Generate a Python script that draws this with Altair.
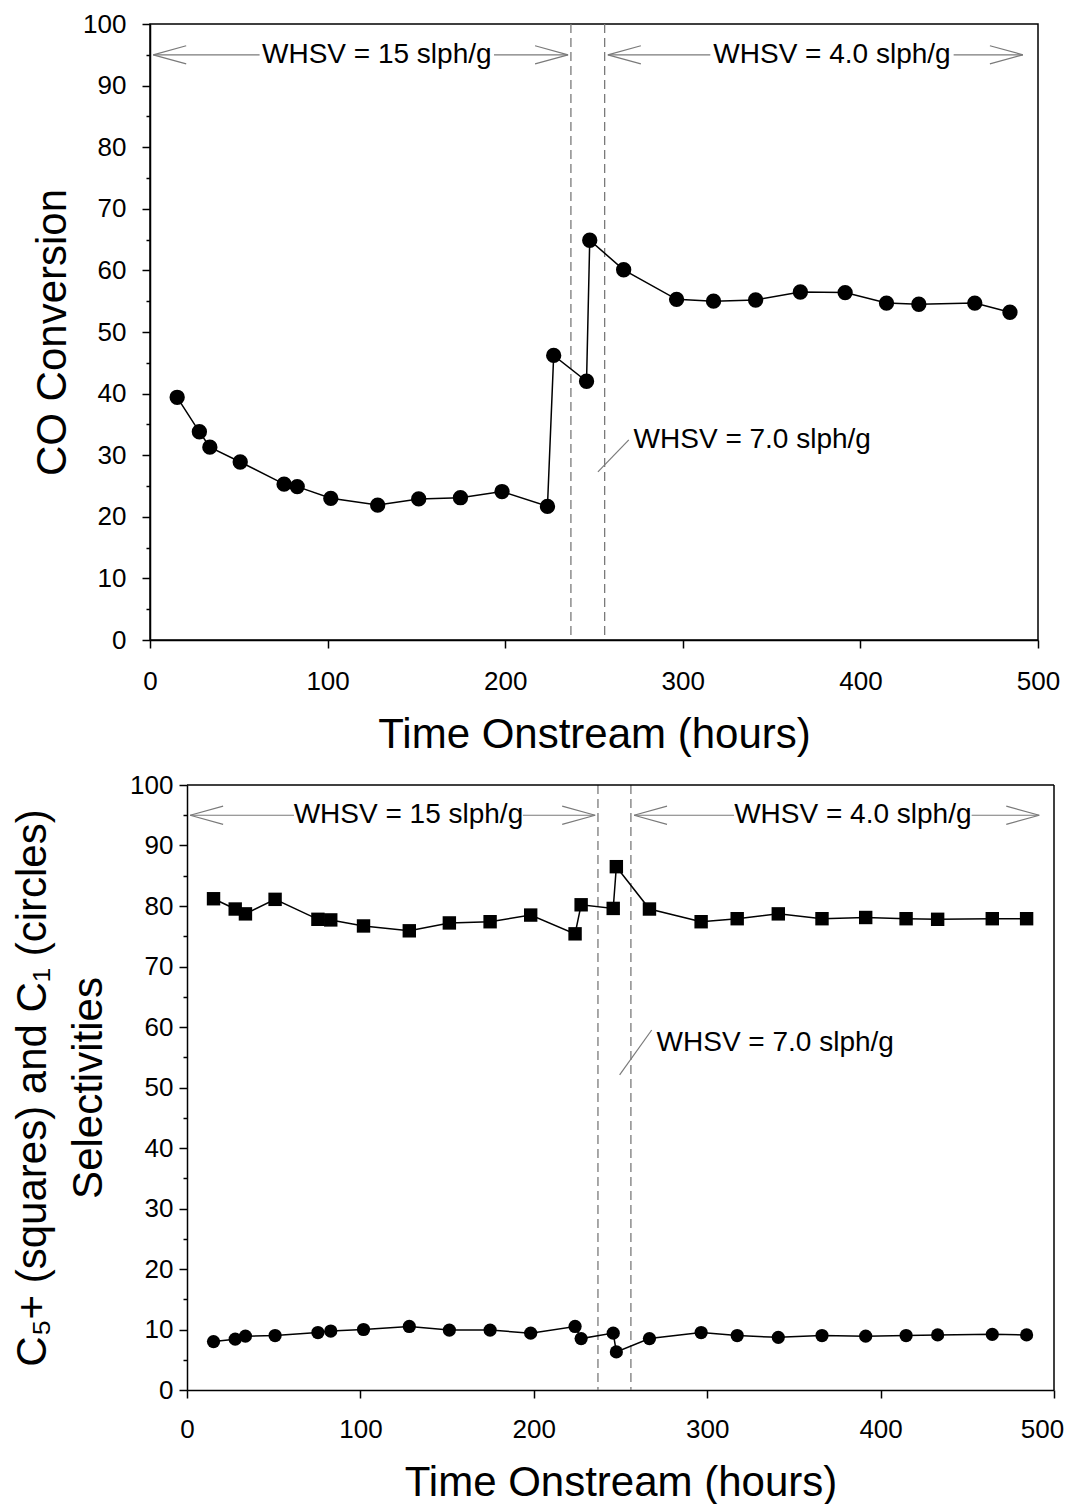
import altair as alt
import pandas as pd

# ---------------- data ----------------
time_h = [15.3, 27.8, 33.7, 50.8, 75.5, 82.9, 101.8, 128.2, 151.3, 174.8, 198.2, 223.8,
          227.3, 245.8, 247.6, 266.7, 296.5, 317.3, 341.0, 366.2, 391.4, 414.7, 432.9,
          464.4, 484.2]
co_conversion = [39.4, 33.8, 31.3, 28.9, 25.3, 24.9, 23.0, 21.9, 22.9, 23.1, 24.1, 21.7,
                 46.2, 42.0, 64.9, 60.1, 55.3, 55.0, 55.2, 56.5, 56.4, 54.7, 54.5, 54.7, 53.2]
c5_plus_sel = [81.2, 79.5, 78.7, 81.1, 77.8, 77.7, 76.7, 75.9, 77.2, 77.4, 78.5, 75.4,
               80.2, 79.6, 86.5, 79.5, 77.4, 77.9, 78.7, 77.9, 78.1, 77.9, 77.8, 77.9, 77.9]
c1_sel = [8.0, 8.4, 8.9, 9.0, 9.5, 9.75, 10.0, 10.5, 9.9, 9.9, 9.4, 10.5,
          8.5, 9.4, 6.3, 8.5, 9.5, 9.0, 8.7, 9.0, 8.9, 9.0, 9.1, 9.2, 9.1]

x_ticks = [0, 100, 200, 300, 400, 500]
y_ticks = list(range(0, 101, 5))

phase_bounds = [237.0, 256.0]

arrow_y = 95.0
arrow_seg_start = [1.8, 193.7, 257.8, 452.5]
arrow_seg_end = [61.7, 235.4, 315.5, 491.5]
arrow_left_heads = [1.8, 257.8]
arrow_right_heads = [235.4, 491.5]
arrow_label_x = [127.7, 384.0]
arrow_label_text = ["WHSV = 15 slph/g", "WHSV = 4.0 slph/g"]

mid_label_text = ["WHSV = 7.0 slph/g"]
top_mid_x, top_mid_y = [272.3], [32.5]
top_leader = {"x": [252.2], "y": [27.3], "x2": [269.6], "y2": [32.5]}
bot_mid_x, bot_mid_y = [270.8], [57.4]
bot_leader = {"x": [249.5], "y": [52.1], "x2": [268.0], "y2": [59.5]}

frame_top = {"x": [0], "x2": [500], "y": [100]}
frame_right = {"x": [500], "y": [0], "y2": [100]}

FONT = "Liberation Sans"
GRAY = "#7a7a7a"
LEFT_HEAD = "M 0 0 L 2 -0.55 M 0 0 L 2 0.55"
RIGHT_HEAD = "M 0 0 L -2 -0.55 M 0 0 L -2 0.55"


def panel(series_layers, plot_w, height, shift, ytitle, ytitle_lh, ytitle_pad, ylabel_pad,
          xlabel_pad, xtitle_pad, last_label_shift, mid_x, mid_y, leader):
    width = plot_w + shift
    xs = alt.Scale(domain=[0, 500], nice=False, zero=False, range=[shift, width])
    ys = alt.Scale(domain=[0, 100], nice=False)
    xaxis = alt.Axis(values=x_ticks, title="Time Onstream (hours)", grid=False,
                     tickSize=8, tickColor="black", tickWidth=1.5,
                     domainColor="black", domainWidth=1.5,
                     labelFont=FONT, labelFontSize=26, labelColor="black",
                     labelPadding=xlabel_pad, labelFlush=False,
                     labelOffset={"condition": {"test": "datum.value === 500",
                                                "value": last_label_shift},
                                  "value": 0},
                     titleFont=FONT, titleFontSize=42, titleFontWeight="normal",
                     titleColor="black", titlePadding=xtitle_pad)
    yaxis = alt.Axis(values=y_ticks, title=ytitle, grid=False, offset=-shift,
                     labelExpr="datum.value % 10 === 0 ? datum.label : ''",
                     tickSize={"condition": {"test": "datum.value % 10 === 0", "value": 8},
                               "value": 4},
                     tickColor="black", tickWidth=1.5,
                     domainColor="black", domainWidth=1.5,
                     labelFont=FONT, labelFontSize=26, labelColor="black",
                     labelPadding=ylabel_pad,
                     titleFont=FONT, titleFontSize=42, titleFontWeight="normal",
                     titleColor="black", titlePadding=ytitle_pad,
                     titleLineHeight=ytitle_lh)

    def X(f):
        return alt.X(f, type="quantitative", scale=xs, axis=xaxis)

    def Y(f):
        return alt.Y(f, type="quantitative", scale=ys, axis=yaxis)

    bounds = alt.Chart(pd.DataFrame({"t": phase_bounds})).mark_rule(
        color=GRAY, strokeDash=[9, 5], strokeWidth=1.3).encode(x=X("t"))

    seg = alt.Chart(pd.DataFrame({"a": arrow_seg_start, "b": arrow_seg_end,
                                  "y": [arrow_y] * len(arrow_seg_start)})).mark_rule(
        color=GRAY, strokeWidth=1.2).encode(x=X("a"), x2="b", y=Y("y"))
    lh = alt.Chart(pd.DataFrame({"t": arrow_left_heads, "y": [arrow_y] * 2})).mark_point(
        shape=LEFT_HEAD, size=1089, filled=False, stroke=GRAY, strokeWidth=1.2,
        opacity=1).encode(x=X("t"), y=Y("y"))
    rh = alt.Chart(pd.DataFrame({"t": arrow_right_heads, "y": [arrow_y] * 2})).mark_point(
        shape=RIGHT_HEAD, size=1089, filled=False, stroke=GRAY, strokeWidth=1.2,
        opacity=1).encode(x=X("t"), y=Y("y"))
    atext = alt.Chart(pd.DataFrame({"t": arrow_label_x, "y": [arrow_y] * 2,
                                    "s": arrow_label_text})).mark_text(
        font=FONT, fontSize=28, color="black", align="center", baseline="middle").encode(
        x=X("t"), y=Y("y"), text="s:N")

    ldr = alt.Chart(pd.DataFrame(leader)).mark_rule(color=GRAY, strokeWidth=1.2).encode(
        x=X("x"), x2="x2", y=Y("y"), y2="y2")
    mtext = alt.Chart(pd.DataFrame({"t": mid_x, "y": mid_y, "s": mid_label_text})).mark_text(
        font=FONT, fontSize=28, color="black", align="left", baseline="middle").encode(
        x=X("t"), y=Y("y"), text="s:N")

    layers = [bounds, seg, lh, rh, atext, ldr, mtext]
    for df, field, shape, size in series_layers:
        base = alt.Chart(df)
        layers.append(base.mark_line(color="black", strokeWidth=1.5).encode(
            x=X("t"), y=Y(field)))
        layers.append(base.mark_point(shape=shape, size=size, filled=True, color="black",
                                      opacity=1).encode(x=X("t"), y=Y(field)))

    if shift > 0:
        # top and right edges of the frame (left/bottom edges are the axis lines)
        ftop = alt.Chart(pd.DataFrame(frame_top)).mark_rule(
            color="black", strokeWidth=1.5).encode(x=X("x"), x2="x2", y=Y("y"))
        fright = alt.Chart(pd.DataFrame(frame_right)).mark_rule(
            color="black", strokeWidth=1.5).encode(x=X("x"), y=Y("y"), y2="y2")
        layers += [ftop, fright]
        return alt.layer(*layers).properties(
            width=width, height=height,
            view=alt.ViewBackground(stroke="transparent"))
    return alt.layer(*layers).properties(width=width, height=height)


df = pd.DataFrame({"t": time_h, "co": co_conversion, "c5": c5_plus_sel, "c1": c1_sel})

top = panel([(df, "co", "circle", 235)], 888, 616, 0, "CO Conversion", 44, 8, 16,
            20, 20, 0, top_mid_x, top_mid_y, top_leader)
bottom = panel([(df, "c5", "square", 180), (df, "c1", "circle", 175)], 867, 605, 37,
               ["C\u2085+ (squares) and C\u2081 (circles)", "Selectivities"], 56, 19, 6,
               18, 20, -12, bot_mid_x, bot_mid_y, bot_leader)

chart = alt.concat(top, bottom, columns=1, spacing=15).properties(
    padding={"left": 2, "top": 2, "right": 0, "bottom": 0}
).configure_view(stroke="black", strokeWidth=1.5)

chart.save("out.html", embed_options={"renderer": "svg", "actions": False})
